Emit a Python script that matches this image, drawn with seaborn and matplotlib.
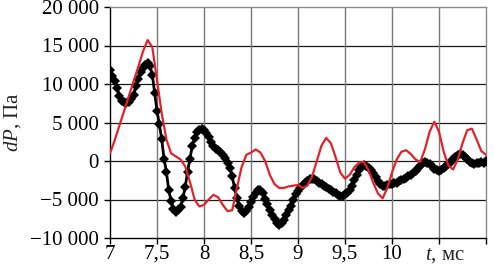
import matplotlib
matplotlib.use("Agg")
import matplotlib.pyplot as plt
import seaborn as sns
import numpy as np
import pandas as pd

# red curve (smooth), sampled every 0.05 ms
t_red = np.round(np.arange(7.0, 11.0001, 0.05), 3)
p_red = [
    1000, 2700, 4600, 6500, 8400, 10300, 12200, 14200, 15700, 14800,
    10500, 6200, 2800, 1000, 600, 200, -700, -2700, -5000, -5900,
    -5700, -5000, -4400, -4700, -5700, -6500, -6400, -3500, -800, 800,
    1100, 1500, 1100, 0, -1800, -3000, -3500, -3500, -3300, -3200,
    -3100, -3500, -3200, -2000, 0, 2000, 3000, 2300, 500, -1500,
    -2300, -1800, -800, -200, -100, -1200, -2800, -4200, -4850, -3500,
    -1500, 200, 1200, 1400, 900, 200, -100, 1500, 3800, 5100,
    3800, 1200, -600, -1100, 200, 2300, 4000, 4200, 2800, 1300,
    800,
]

# black curve (measured, diamonds), sampled every 0.025 ms
t_black = np.round(np.arange(7.0, 11.0001, 0.025), 3)
p_black = [
    11800, 11000, 10400, 9500, 8400, 7800, 7600, 7500, 7600, 8100,
    8600, 9700, 10600, 11500, 12100, 12500, 12700, 12300, 11200, 8800,
    6500, 4800, 2800, 300, -1400, -3800, -5200, -6200, -6600, -6400,
    -6000, -4800, -3400, -1400, 300, 1900, 3000, 3800, 4000, 4100,
    4000, 3600, 3100, 2500, 1900, 1600, 1400, 1200, 800, 400,
    -200, -900, -2000, -3500, -4800, -5800, -6500, -6700, -6500, -6000,
    -5300, -4700, -4200, -3800, -3800, -4200, -4900, -5600, -6400, -7000,
    -7500, -8100, -8300, -8000, -7600, -7000, -6400, -5800, -5000, -4300,
    -3900, -3500, -3100, -2800, -2600, -2400, -2300, -2400, -2600, -2800,
    -3000, -3200, -3400, -3600, -3800, -4000, -4200, -4400, -4500, -4500,
    -4300, -4100, -3800, -3300, -2500, -1800, -1200, -800, -500, -600,
    -900, -1200, -1600, -2100, -2600, -3000, -3200, -3200, -3100, -3000,
    -3000, -2900, -2800, -2600, -2500, -2400, -2200, -2000, -1800, -1600,
    -1300, -900, -600, -300, -100, -200, -400, -700, -1000, -1200,
    -1300, -1200, -900, -700, -400, -100, 200, 500, 800, 900,
    800, 500, 200, -100, -300, -400, -300, -200, -100, -200,
    0,
]

x_ticks = [7, 7.5, 8, 8.5, 9, 9.5, 10, 10.5, 11]
x_labels = ["7", "7,5", "8", "8,5", "9", "9,5", "10", "", ""]
y_ticks = [-10000, -5000, 0, 5000, 10000, 15000, 20000]

df_red = pd.DataFrame({"t": t_red, "p": p_red})
df_black = pd.DataFrame({"t": t_black, "p": p_black})

sns.set_style("white")
plt.rcParams["font.family"] = ["Liberation Serif", "DejaVu Serif"]
plt.rcParams["mathtext.fontset"] = "custom"
plt.rcParams["mathtext.it"] = "Liberation Serif:italic"
plt.rcParams["mathtext.rm"] = "Liberation Serif"

fig = plt.figure(figsize=(4.94, 2.72), dpi=100)
ax = fig.add_axes([110 / 494, 1 - 238 / 272, 376 / 494, 231 / 272])

sns.lineplot(data=df_black, x="t", y="p", ax=ax, color="black", lw=2.0,
             marker="D", markersize=5.5, markeredgewidth=0, zorder=3)
sns.lineplot(data=df_red, x="t", y="p", ax=ax, color="#e3212b", lw=1.6,
             zorder=4)

ax.set_xlim(7, 11)
ax.set_ylim(-10000, 20000)
ax.set_xticks(x_ticks)
ax.set_xticklabels(x_labels)
ax.set_yticks(y_ticks)
ax.set_yticklabels([f"{v:,}".replace(",", " ").replace("-", "\u2212") for v in y_ticks])

# grid: horizontal darker, vertical grey
for v in y_ticks[1:-1]:
    ax.axhline(v, color="#1a1a1a", lw=0.9, zorder=1)
for v in x_ticks[1:-1]:
    ax.axvline(v, color="#7a7a7a", lw=1.0, zorder=1)

ax.spines["left"].set_color("black")
ax.spines["bottom"].set_color("black")
ax.spines["top"].set_color("#8a8a8a")
ax.spines["right"].set_color("#8a8a8a")
for s in ax.spines.values():
    s.set_linewidth(1.0)

ax.tick_params(axis="both", labelsize=15, length=4, width=1,
               direction="out", colors="black")
ax.tick_params(axis="x", bottom=True, pad=1)
ax.tick_params(axis="y", left=True, pad=4)

ax.set_xlabel("")
ax.set_ylabel("$dP$, Па", fontsize=15)
ax.yaxis.set_label_coords(-0.232, 0.5)
ax.text(10.35, -0.035, "$t$, мс", transform=ax.get_xaxis_transform(),
        ha="left", va="top", fontsize=15)

plt.savefig("out.png", dpi=100)
plt.close()
